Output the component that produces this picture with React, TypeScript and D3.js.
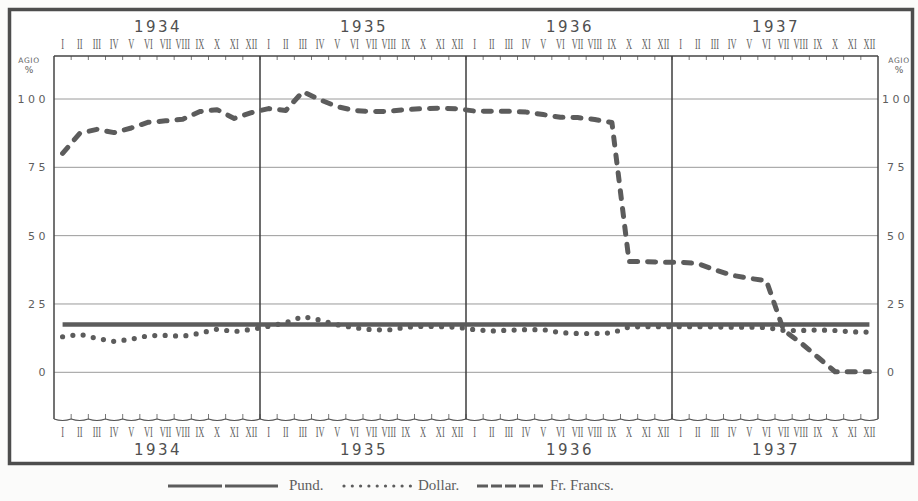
import React from 'react';
import * as d3 from 'd3';

// Agio in % against gold parity, monthly 1934-1937
const years = ['1934', '1935', '1936', '1937'];
const months = ['I', 'II', 'III', 'IV', 'V', 'VI', 'VII', 'VIII', 'IX', 'X', 'XI', 'XII'];
const yTicks = [0, 25, 50, 75, 100];

const pund = [
  17.5, 17.5, 17.5, 17.5, 17.5, 17.5, 17.5, 17.5, 17.5, 17.5, 17.5, 17.5,
  17.5, 17.5, 17.5, 17.5, 17.5, 17.5, 17.5, 17.5, 17.5, 17.5, 17.5, 17.5,
  17.5, 17.5, 17.5, 17.5, 17.5, 17.5, 17.5, 17.5, 17.5, 17.5, 17.5, 17.5,
  17.5, 17.5, 17.5, 17.5, 17.5, 17.5, 17.5, 17.5, 17.5, 17.5, 17.5, 17.5,
];

const dollar = [
  13.0, 13.9, 12.4, 11.3, 12.1, 13.4, 13.5, 13.2, 14.3, 15.8, 14.9, 15.7,
  16.8, 18.2, 20.4, 19.1, 17.4, 16.3, 15.6, 15.5, 16.5, 16.8, 16.7, 16.5,
  15.6, 15.1, 15.4, 15.6, 15.6, 14.5, 14.2, 14.2, 14.4, 16.6, 16.7, 16.7,
  16.7, 16.7, 16.6, 16.5, 16.5, 16.4, 15.3, 15.3, 15.5, 15.3, 14.8, 14.7,
];

const francs = [
  80.1, 87.4, 88.9, 87.7, 89.4, 91.5, 92.0, 92.6, 95.4, 96.1, 92.9, 95.0,
  96.5, 95.8, 102.7, 99.7, 97.2, 95.8, 95.4, 95.5, 96.1, 96.5, 96.6, 96.4,
  95.6, 95.5, 95.5, 95.2, 94.3, 93.3, 93.2, 92.5, 91.4, 40.5, 40.5, 40.3,
  40.3, 39.8, 37.5, 35.5, 34.4, 33.5, 15.4, 10.8, 5.5, 0.2, 0.2, 0.2,
];

const W = 918;
const H = 501;
const plot = { left: 54, right: 878, top: 56, bottom: 419 };
const textCol = '#5e5e5e';

const App: React.FC = () => {
  const nMonths = years.length * months.length;
  const x = d3.scaleLinear().domain([0, nMonths]).range([plot.left, plot.right]);
  const y = d3.scaleLinear().domain([0, 100]).range([372.3, 99]);

  const line = d3
    .line<number>()
    .x((_, i) => x(i + 0.5))
    .y((d) => y(d));

  // scalloped bottom edge
  let wavy = `M${x(0)},${plot.bottom}`;
  for (let i = 0; i < nMonths; i++) {
    wavy += ` Q${x(i + 0.5)},${plot.bottom + 3} ${x(i + 1)},${plot.bottom}`;
  }

  const monthIdx = d3.range(nMonths);
  const romanLabel = (yy: number) =>
    monthIdx.map((i) => (
      <text
        key={`r${yy}-${i}`}
        transform={`translate(${x(i + 0.5)},${yy}) scale(0.6,1)`}
        textAnchor="middle"
        fontFamily="Liberation Serif, serif"
        fontSize={14}
        fill={textCol}
      >
        {months[i % 12]}
      </text>
    ));

  return (
    <svg
      width={W}
      height={H}
      style={{ position: 'absolute', left: 0, top: 0, display: 'block', background: '#fbfbfa' }}
    >
      {/* outer frame */}
      <rect x={9.5} y={9.5} width={903} height={454} fill="#fff" stroke="#4d4d4d" strokeWidth={3.5} />

      {/* gridlines */}
      {yTicks.map((t) => (
        <line key={`g${t}`} x1={plot.left} x2={plot.right} y1={y(t)} y2={y(t)} stroke="#9a9a9a" strokeWidth={1} />
      ))}

      {/* ticks top and bottom */}
      {d3.range(1, nMonths).map((i) => (
        <g key={`t${i}`}>
          <line x1={x(i)} x2={x(i)} y1={plot.top} y2={plot.top + 4} stroke="#777" strokeWidth={1} />
          <line x1={x(i)} x2={x(i)} y1={plot.bottom} y2={plot.bottom - 5} stroke="#777" strokeWidth={1} />
        </g>
      ))}

      {/* plot frame */}
      <line x1={plot.left} x2={plot.right} y1={plot.top} y2={plot.top} stroke="#444" strokeWidth={1.5} />
      <line x1={plot.left} x2={plot.left} y1={plot.top} y2={plot.bottom} stroke="#444" strokeWidth={1.5} />
      <line x1={plot.right} x2={plot.right} y1={plot.top} y2={plot.bottom} stroke="#444" strokeWidth={1.5} />
      <path d={wavy} fill="none" stroke="#555" strokeWidth={1.2} />

      {/* year dividers */}
      {d3.range(1, years.length).map((k) => (
        <line
          key={`yd${k}`}
          x1={x(k * 12)}
          x2={x(k * 12)}
          y1={plot.top}
          y2={plot.bottom}
          stroke="#3c3c3c"
          strokeWidth={1.5}
        />
      ))}

      {/* series */}
      <path d={line(pund) || ''} fill="none" stroke="#5c5c5c" strokeWidth={4.5} />
      <path
        d={line(dollar) || ''}
        fill="none"
        stroke="#5c5c5c"
        strokeWidth={5.2}
        strokeDasharray="0 10.4"
        strokeLinecap="round"
      />
      <path
        d={line(francs) || ''}
        fill="none"
        stroke="#5c5c5c"
        strokeWidth={5}
        strokeDasharray="8 10"
        strokeLinecap="round"
        strokeLinejoin="round"
      />

      {/* y labels */}
      {yTicks.map((t) => (
        <g key={`yl${t}`} fontFamily="DejaVu Sans, sans-serif" fontSize={11} fill={textCol} letterSpacing={3.5}>
          <text x={49} y={y(t) + 4} textAnchor="end">
            {t}
          </text>
          <text x={t === 100 ? 882 : 887} y={y(t) + 4} textAnchor="start">
            {t}
          </text>
        </g>
      ))}
      {[29, 899].map((cx) => (
        <g key={`agio${cx}`} fontFamily="DejaVu Sans, sans-serif" fill={textCol} textAnchor="middle">
          <text x={cx} y={63} fontSize={7.5} letterSpacing={0.6}>
            AGIO
          </text>
          <text x={cx} y={73} fontSize={9}>
            %
          </text>
        </g>
      ))}

      {/* month labels */}
      {romanLabel(49)}
      {romanLabel(437)}

      {/* year labels */}
      {years.map((yr, k) => (
        <g key={`yr${yr}`} fontFamily="DejaVu Sans, sans-serif" fontSize={15} fill="#505050" textAnchor="middle" letterSpacing={2.5}>
          <text x={x(k * 12 + 6) + 1} y={32}>
            {yr}
          </text>
          <text x={x(k * 12 + 6) + 1} y={455}>
            {yr}
          </text>
        </g>
      ))}

      {/* legend */}
      <g fontFamily="Liberation Serif, serif" fontSize={15} fill={textCol}>
        <line x1={168} x2={278} y1={486} y2={486} stroke="#5c5c5c" strokeWidth={2.8} strokeDasharray="54 3" />
        <text x={289} y={490}>Pund.</text>
        <line
          x1={344}
          x2={411}
          y1={486}
          y2={486}
          stroke="#5c5c5c"
          strokeWidth={3.2}
          strokeDasharray="0 8.3"
          strokeLinecap="round"
        />
        <text x={418} y={490}>Dollar.</text>
        <line x1={477} x2={543} y1={486} y2={486} stroke="#5c5c5c" strokeWidth={2.8} strokeDasharray="11 3" />
        <text x={550} y={490}>Fr. Francs.</text>
      </g>
    </svg>
  );
};

export default App;
